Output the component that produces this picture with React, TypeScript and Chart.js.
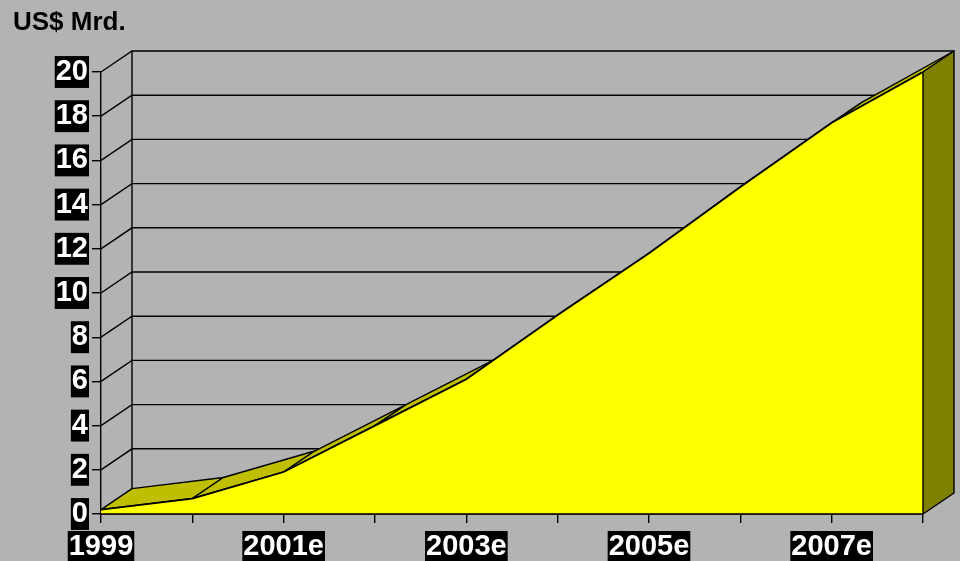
import React, { useEffect, useRef } from 'react';
import { Chart, registerables } from 'chart.js';

Chart.register(...registerables);

// ---- data ----
const categories = ['1999', '2000e', '2001e', '2002e', '2003e', '2004e', '2005e', '2006e', '2007e', '2008e'];
const marketValues = [0.2, 0.7, 1.9, 4.0, 6.1, 9.0, 11.8, 14.8, 17.7, 20.0];
const yMin = 0;
const yMax = 20;
const yStep = 2;
const unitLabel = 'US$ Mrd.';
const labelEvery = 2;

// ---- style ----
const BG = '#b3b3b3';
const FRONT = '#ffff00';
const TOP = '#bfbf00';
const SIDE = '#808000';
const DX = 31;
const DY = 21;
const FONT = '"Liberation Sans", Arial, Helvetica, sans-serif';

const excel3d = {
  id: 'excel3d',
  beforeDraw(chart: any) {
    const { ctx, width, height } = chart;
    ctx.save();
    ctx.fillStyle = BG;
    ctx.fillRect(0, 0, width, height);
    ctx.restore();
  },
  beforeDatasetsDraw(chart: any) {
    const { ctx, chartArea, scales } = chart;
    const y = scales.y;
    const L = chartArea.left;
    const R = chartArea.right;
    ctx.save();
    ctx.strokeStyle = '#000';
    ctx.lineWidth = 1.4;
    for (let v = yMin; v <= yMax; v += yStep) {
      const py = y.getPixelForValue(v);
      ctx.beginPath();
      ctx.moveTo(L, py);
      ctx.lineTo(L + DX, py - DY);
      ctx.lineTo(R + DX, py - DY);
      ctx.stroke();
    }
    ctx.beginPath();
    ctx.moveTo(L + DX, y.getPixelForValue(yMax) - DY);
    ctx.lineTo(L + DX, y.getPixelForValue(yMin) - DY);
    ctx.stroke();

    // top surfaces of the area ribbon
    const pts = chart.getDatasetMeta(0).data;
    ctx.lineJoin = 'round';
    for (let i = 0; i < pts.length - 1; i++) {
      const a = pts[i];
      const b = pts[i + 1];
      ctx.beginPath();
      ctx.moveTo(a.x, a.y);
      ctx.lineTo(b.x, b.y);
      ctx.lineTo(b.x + DX, b.y - DY);
      ctx.lineTo(a.x + DX, a.y - DY);
      ctx.closePath();
      ctx.fillStyle = TOP;
      ctx.fill();
      ctx.stroke();
    }
    ctx.restore();
  },
  afterDatasetsDraw(chart: any) {
    const { ctx, chartArea, scales } = chart;
    const y = scales.y;
    const pts = chart.getDatasetMeta(0).data;
    const last = pts[pts.length - 1];
    const base = y.getPixelForValue(yMin);
    ctx.save();
    ctx.strokeStyle = '#000';
    ctx.lineWidth = 1.4;
    ctx.lineJoin = 'round';
    ctx.beginPath();
    ctx.moveTo(last.x, last.y);
    ctx.lineTo(last.x + DX, last.y - DY);
    ctx.lineTo(last.x + DX, base - DY);
    ctx.lineTo(last.x, base);
    ctx.closePath();
    ctx.fillStyle = SIDE;
    ctx.fill();
    ctx.stroke();
    // bottom edge of front face
    ctx.beginPath();
    ctx.moveTo(chartArea.left, base);
    ctx.lineTo(chartArea.right, base);
    ctx.stroke();
    ctx.restore();
  },
  afterDraw(chart: any) {
    const { ctx } = chart;
    ctx.save();
    ctx.fillStyle = '#000';
    ctx.font = `bold 26px ${FONT}`;
    ctx.textBaseline = 'alphabetic';
    ctx.textAlign = 'left';
    ctx.fillText(unitLabel, 13, 30);
    ctx.restore();
  },
};

const tickFont = { family: FONT, size: 29, weight: 'bold' as const, lineHeight: 1.1 };

export default function App() {
  const ref = useRef<HTMLCanvasElement>(null);
  useEffect(() => {
    document.body.style.margin = '0';
    const chart = new Chart(ref.current as HTMLCanvasElement, {
      type: 'line',
      data: {
        labels: categories,
        datasets: [
          {
            data: marketValues,
            fill: 'origin',
            backgroundColor: FRONT,
            borderColor: '#000',
            borderWidth: 1.8,
            pointRadius: 0,
            tension: 0,
          },
        ],
      },
      options: {
        responsive: false,
        animation: false,
        devicePixelRatio: 1,
        layout: { padding: { top: 72, right: 37, bottom: 0, left: 0 } },
        plugins: { legend: { display: false }, tooltip: { enabled: false }, title: { display: false } },
        scales: {
          x: {
            type: 'category',
            offset: false,
            afterFit: (s: any) => {
              s.height = 47;
            },
            grid: { drawOnChartArea: false, drawTicks: true, tickLength: 9, color: '#000', tickColor: '#000', lineWidth: 1.4 },
            border: { display: true, color: '#000', width: 1.4 },
            ticks: {
              autoSkip: false,
              maxRotation: 0,
              minRotation: 0,
              padding: 8,
              color: '#fff',
              font: tickFont,
              callback: (_v: any, i: number) => (i % labelEvery === 0 ? categories[i] : ''),
              showLabelBackdrop: (c: any) => c.index % labelEvery === 0,
              backdropColor: '#000',
              backdropPadding: { top: 0, bottom: 0, left: 1, right: 1 },
            } as any,
          },
          y: {
            min: yMin,
            max: yMax,
            afterFit: (s: any) => {
              s.width = 101;
            },
            grid: { drawOnChartArea: false, drawTicks: true, tickLength: 9, color: '#000', tickColor: '#000', lineWidth: 1.4 },
            border: { display: true, color: '#000', width: 1.4 },
            ticks: {
              stepSize: yStep,
              padding: 4,
              color: '#fff',
              font: tickFont,
              showLabelBackdrop: true,
              backdropColor: '#000',
              backdropPadding: { top: 0, bottom: 0, left: 1, right: 1 },
            } as any,
          },
        },
      },
      plugins: [excel3d],
    });
    return () => chart.destroy();
  }, []);
  return (
    <div style={{ width: 960, height: 561, background: BG }}>
      <canvas ref={ref} width={960} height={561} style={{ display: 'block', width: 960, height: 561 }} />
    </div>
  );
}
